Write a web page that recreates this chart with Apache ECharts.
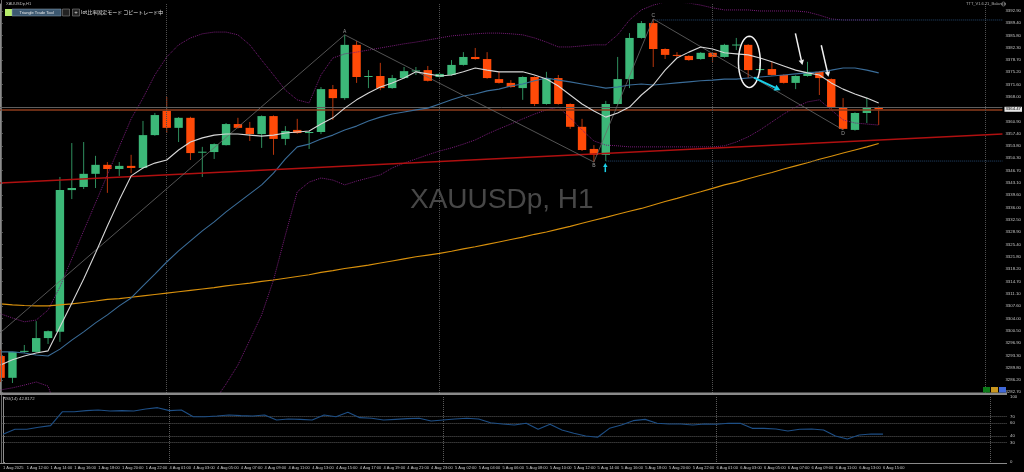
<!DOCTYPE html>
<html><head><meta charset="utf-8">
<script src="https://cdn.jsdelivr.net/npm/echarts@6/dist/echarts.min.js"></script>
<style>html,body{margin:0;padding:0;background:#000;}#c{width:1024px;height:472px;}</style>
</head><body><div id="c"></div>
<script>
// ---------- data (XAUUSDp H1, 1 Aug 10:00 -> 6 Aug 15:00) ----------
const opens = [3293.1,3286.8,3294.3,3294.3,3298.3,3300.1,3341.1,3342.0,3345.8,3348.4,
3347.2,3348.1,3347.5,3357.0,3364.0,3359.1,3362.0,3352.1,3352.1,3354.1,
3360.2,3359.1,3357.3,3362.5,3355.9,3358.5,3357.6,3357.9,3370.3,3367.7,
3383.1,3373.8,3374.1,3370.6,3373.5,3375.5,3375.8,3373.8,3374.4,3377.3,
3379.6,3379.0,3373.2,3372.1,3370.6,3373.8,3366.0,3373.5,3366.0,3359.4,
3353.0,3351.3,3366.0,3373.2,3385.1,3389.4,3381.9,3380.2,3379.9,3379.0,
3380.8,3379.6,3383.1,3383.1,3376.0,3376.1,3374.4,3372.1,3374.1,3375.3,
3373.2,3365.1,3358.5,3363.4,3365.1];
const closes = [3286.8,3294.3,3294.6,3298.3,3300.3,3341.1,3341.7,3345.8,3348.4,3347.2,
3348.1,3347.5,3357.0,3362.8,3359.1,3362.0,3351.8,3352.2,3354.4,3360.2,
3359.1,3357.3,3362.5,3355.9,3358.2,3357.6,3357.9,3370.3,3367.7,3383.1,
3373.8,3374.1,3370.6,3373.5,3375.5,3375.7,3372.7,3374.7,3377.3,3379.6,
3379.0,3373.5,3372.1,3370.9,3373.8,3366.0,3373.5,3366.0,3359.4,3352.7,
3351.3,3366.0,3373.2,3385.1,3389.4,3381.9,3380.2,3380.0,3378.7,3380.8,
3379.6,3383.1,3383.2,3375.8,3376.1,3374.4,3372.1,3374.1,3375.3,3373.5,
3365.1,3358.8,3363.4,3365.1,3364.47];
const highs = [3294.9,3294.3,3296.3,3303.2,3300.5,3344.9,3354.7,3355.0,3351.0,3349.2,
3349.2,3351.3,3361.1,3363.4,3368.0,3362.2,3362.3,3353.6,3354.6,3360.5,
3362.0,3360.8,3362.7,3362.7,3359.6,3361.7,3358.3,3370.9,3371.5,3386.0,
3384.2,3375.8,3377.9,3374.4,3376.7,3376.7,3377.0,3375.0,3378.7,3381.0,
3382.2,3381.0,3375.3,3372.9,3374.0,3374.0,3375.3,3374.4,3366.2,3361.7,
3354.1,3366.9,3379.6,3386.5,3390.0,3390.6,3382.1,3381.0,3380.1,3381.0,
3381.0,3383.4,3385.1,3383.3,3377.9,3378.2,3374.6,3374.3,3378.2,3375.5,
3373.4,3367.7,3363.6,3367.7,3365.3];
const lows = [3285.6,3285.3,3294.0,3294.1,3296.6,3297.2,3338.5,3341.4,3341.7,3340.3,
3345.2,3346.0,3347.3,3356.8,3357.6,3355.0,3349.8,3344.9,3350.1,3354.0,
3358.9,3355.3,3353.3,3351.3,3354.1,3357.4,3353.0,3357.3,3361.4,3367.2,
3372.1,3370.6,3370.0,3370.4,3373.3,3374.4,3372.5,3373.6,3374.2,3377.1,
3378.8,3373.3,3371.9,3370.7,3367.2,3365.4,3365.8,3365.8,3358.8,3352.4,
3349.2,3349.5,3365.8,3370.6,3384.9,3376.7,3379.0,3379.3,3378.5,3378.8,
3378.2,3379.4,3381.6,3373.5,3375.0,3374.2,3371.9,3370.3,3373.9,3368.6,
3364.6,3358.5,3358.3,3360.5,3359.9];
const maFast = [3290.5,3292.0,3293.1,3294.0,3294.6,3301.5,3308.4,3315.4,3322.9,3330.7,
3338.2,3345.2,3347.5,3348.9,3349.8,3352.7,3355.0,3356.2,3357.0,3357.3,
3357.3,3357.0,3356.7,3357.0,3357.6,3357.9,3358.2,3360.2,3362.0,3364.8,
3367.2,3369.2,3370.9,3372.1,3373.5,3375.3,3374.7,3374.1,3374.4,3375.3,
3376.4,3375.8,3375.3,3375.3,3375.3,3374.4,3373.2,3371.2,3368.6,3366.0,
3364.0,3362.2,3363.4,3365.1,3368.6,3371.5,3375.8,3379.3,3381.0,3382.5,
3381.9,3380.8,3380.5,3380.2,3379.3,3378.2,3377.0,3375.8,3375.0,3374.4,
3372.1,3370.3,3368.9,3367.7,3366.3];
const maMid = [3294.3,3294.3,3294.0,3293.4,3293.1,3295.1,3297.7,3300.1,3302.7,3305.0,
3307.6,3309.9,3313.4,3316.8,3320.3,3323.5,3326.4,3329.3,3331.9,3334.8,
3337.4,3340.0,3342.6,3346.0,3350.1,3353.6,3354.4,3355.9,3357.0,3358.5,
3359.6,3361.1,3362.2,3363.1,3363.7,3364.3,3364.8,3366.0,3367.2,3368.3,
3368.9,3369.8,3370.3,3371.2,3371.8,3372.7,3373.5,3372.9,3372.4,3371.8,
3371.2,3370.6,3370.9,3371.5,3371.8,3371.5,3371.8,3372.1,3372.4,3372.7,
3372.9,3373.2,3373.2,3373.5,3373.8,3374.1,3374.4,3374.7,3375.0,3375.3,
3375.8,3376.4,3376.4,3375.8,3375.0];
const maSlow = [3308.2,3307.9,3307.7,3307.6,3307.6,3307.9,3308.2,3308.6,3309.0,3309.5,
3309.7,3310.1,3310.5,3310.9,3311.3,3311.7,3312.1,3312.5,3312.9,3313.4,
3313.8,3314.2,3314.7,3315.1,3315.6,3316.1,3316.6,3317.3,3317.8,3318.4,
3318.9,3319.4,3320.0,3320.6,3321.2,3321.8,3322.3,3322.8,3323.4,3324.1,
3324.7,3325.4,3326.1,3326.8,3327.5,3328.3,3329.0,3329.8,3330.6,3331.5,
3332.4,3333.2,3334.1,3335.0,3335.8,3336.8,3337.8,3338.7,3339.7,3340.6,
3341.6,3342.6,3343.4,3344.4,3345.3,3346.2,3347.2,3348.1,3349.0,3350.0,
3350.9,3351.8,3352.7,3353.6,3354.6];
const bbUpper = [3305.3,3304.1,3303.0,3303.5,3306.4,3313.1,3321.2,3329.3,3337.4,3345.5,
3353.6,3361.7,3367.7,3374.4,3379.6,3383.1,3385.1,3386.3,3386.8,3386.8,
3386.0,3383.1,3378.7,3374.4,3370.0,3367.2,3366.3,3374.4,3379.3,3380.5,
3381.0,3381.6,3382.2,3382.8,3383.4,3383.9,3384.5,3385.1,3385.7,3386.0,
3386.3,3386.5,3386.5,3386.3,3386.0,3385.1,3383.9,3382.5,3382.5,3382.8,
3383.1,3383.1,3386.0,3390.3,3393.2,3394.6,3395.5,3395.5,3395.2,3394.6,
3393.8,3393.2,3393.2,3393.2,3392.9,3392.9,3392.9,3392.9,3392.6,3391.7,
3390.6,3390.3,3390.3,3390.3,3390.3];
const bbLower = [3283.3,3283.9,3284.7,3285.6,3284.4,3275.0,3268.0,3262.0,3258.0,3256.0,
3255.0,3256.0,3258.7,3262.0,3266.0,3268.0,3269.0,3276.0,3280.0,3285.0,
3290.5,3297.7,3305.0,3315.1,3328.1,3340.6,3343.4,3344.6,3344.0,3342.6,
3343.7,3344.6,3345.5,3347.5,3348.9,3350.1,3351.3,3352.4,3353.3,3354.4,
3355.6,3357.3,3358.8,3360.2,3361.7,3363.1,3364.3,3365.1,3362.0,3358.5,
3355.3,3354.1,3353.9,3353.6,3353.6,3353.6,3353.6,3353.6,3353.6,3353.6,
3353.6,3353.9,3355.0,3356.5,3358.5,3360.8,3363.1,3365.1,3366.6,3367.2,
3364.3,3361.4,3360.5,3360.2,3359.9];
const rsi = [42.6,50.3,50.3,53.4,55.9,77.4,77.4,79.0,80.0,78.5,
79.0,78.5,81.5,83.6,79.0,80.0,69.7,69.7,70.8,72.3,
71.3,70.8,72.3,64.6,66.2,65.6,64.6,72.3,69.7,76.4,
68.2,67.2,64.6,65.6,66.7,67.2,63.1,64.6,66.2,67.2,
66.2,60.5,58.5,56.9,59.5,50.3,58.0,49.2,44.1,40.0,
38.0,51.8,56.9,63.6,65.6,59.5,58.5,58.5,56.9,58.5,
58.0,59.5,59.5,51.8,51.8,50.8,47.7,50.3,50.8,49.2,
40.0,35.4,41.5,43.1,42.8172];
const bidPrice = 3364.47;
const askPrice = 3364.95;
const rsiLast = 42.8172;
const priceTicks = [3282.7,3286.2,3289.8,3293.3,3296.9,3300.5,3304.0,3307.6,3311.1,3314.7,
3318.2,3321.8,3325.4,3328.9,3332.5,3336.0,3339.6,3343.1,3346.7,3350.3,3353.8,3357.4,
3360.9,3368.0,3371.6,3375.2,3378.7,3382.3,3385.8,3389.4,3392.9];
const rsiTicks = [0,30,40,60,70,100];
const rsiLevels = [70,60,40,30];
const sessions = [['1 Aug',10,23],['4 Aug',1,23],['5 Aug',1,23],['6 Aug',1,15]];
const daySeparators = [14,37,60,83];
// trend line / pattern points (bar index, price)
const trendRed = [[-0.05,3343.15],[84.43,3357.3]];
const zigzag = [[-0.05,3299.8],[29,3386.0],[50,3349.2],[55,3390.6],[71,3358.5]];
const zigzagNames = ['', 'A','B','C','D'];
const levelC = [[55,3390.3],[84.43,3390.3]];
const levelB = [[51,3349.5],[84.43,3349.5]];
const circleMark = {center:[63.1,3378.2], radius:[0.92,7.4]};
const cyanArrows = [[[63.48,3373.6],[65.72,3370.0]],[[50.96,3346.3],[50.96,3348.9]]];
const whiteArrows = [[[66.98,3386.4],[67.57,3377.3]],[[69.16,3383.0],[69.77,3373.9]]];

const timeLabels = [];
sessions.forEach(([d,a,b]) => { for (let h=a; h<=b; h++) timeLabels.push(d+' '+String(h).padStart(2,'0')+':00'); });
timeLabels[0] = '1 Aug 2025';
const labelIdx = timeLabels.map((_,i)=>i).filter(i=>i%2===0);

const X_MIN = -0.05, X_MAX = 84.43;
const FONT = 'Liberation Sans, DejaVu Sans, sans-serif';

const candleData = opens.map((o,i)=>[i,o,closes[i],lows[i],highs[i]]);
const pair = a => a.map((v,i)=>[i,v]);

function arrowEls(p1,p2,color,w,head){
  const dx=p2[0]-p1[0], dy=p2[1]-p1[1], L=Math.hypot(dx,dy)||1, ux=dx/L, uy=dy/L;
  const hw=head*0.55, bx=p2[0]-ux*head, by=p2[1]-uy*head;
  return [
    {type:'line',shape:{x1:p1[0],y1:p1[1],x2:bx,y2:by},style:{stroke:color,lineWidth:w}},
    {type:'polygon',shape:{points:[[p2[0],p2[1]],[bx-uy*hw,by+ux*hw],[bx+uy*hw,by-ux*hw]]},style:{fill:color}}
  ];
}

const chart = echarts.init(document.getElementById('c'), null, {renderer:'canvas'});
const option = {
  backgroundColor:'#000',
  animation:false,
  grid:[{left:0,right:17,top:4,height:389},{left:0,right:17,top:397,height:65}],
  xAxis:[
    {gridIndex:0,type:'value',min:X_MIN,max:X_MAX,axisLine:{show:false},axisTick:{show:false},axisLabel:{show:false},splitLine:{show:false}},
    {gridIndex:1,type:'value',min:X_MIN,max:X_MAX,axisLine:{show:false},axisTick:{show:false},splitLine:{show:false},
     axisLabel:{customValues:labelIdx,formatter:v=>timeLabels[Math.round(v)]||'',fontSize:4,color:'#c8c8c8',align:'left',margin:4,fontFamily:FONT}}
  ],
  yAxis:[
    {gridIndex:0,type:'value',position:'right',min:3282.41,max:3394.92,splitLine:{show:false},
     axisLine:{show:true,lineStyle:{color:'#8c8c8c'}},
     axisTick:{show:true,customValues:priceTicks,length:2,lineStyle:{color:'#8c8c8c'}},
     axisLabel:{customValues:priceTicks,formatter:v=>v.toFixed(2),fontSize:4.3,color:'#c4c4c4',margin:3,fontFamily:FONT}},
    {gridIndex:1,type:'value',position:'right',min:0,max:100,splitLine:{show:false},
     axisLine:{show:true,lineStyle:{color:'#8c8c8c'}},
     axisTick:{show:true,customValues:rsiTicks,length:2,lineStyle:{color:'#8c8c8c'}},
     axisLabel:{customValues:rsiTicks,fontSize:4.3,color:'#c4c4c4',margin:3,fontFamily:FONT}}
  ],
  graphic:[
    {type:'text',left:410,top:186,z:0,style:{text:'XAUUSDp, H1',fill:'#474747',font:'28px '+FONT}},
    {type:'line',shape:{x1:1.5,y1:0,x2:1.5,y2:464},style:{stroke:'#6a6a6a',lineWidth:1},z:50},
    {type:'rect',shape:{x:0,y:392.5,width:1007,height:2.5},style:{fill:'#8a8a8a'},z:50},
    {type:'line',shape:{x1:0,y1:463.5,x2:1007,y2:463.5},style:{stroke:'#8a8a8a',lineWidth:1},z:50},
    {type:'text',left:6,top:2,z:60,style:{text:'XAUUSDp,H1',fill:'#bdbdbd',font:'4px '+FONT}},
    {type:'rect',shape:{x:5,y:9,width:7,height:7},style:{fill:'#b6ec6a'},z:60},
    {type:'rect',shape:{x:12,y:9,width:49,height:7},style:{fill:'#3c5870',stroke:'#8fa4b8',lineWidth:0.5},z:60},
    {type:'text',x:36.5,y:12.5,z:61,style:{text:'Triangle Trade Tool',fill:'#e8e8e8',font:'4px '+FONT,align:'center',verticalAlign:'middle'}},
    {type:'rect',shape:{x:62.5,y:9,width:7,height:7},style:{fill:'#222',stroke:'#9a9a9a',lineWidth:0.5},z:60},
    {type:'rect',shape:{x:72.5,y:9,width:7,height:7},style:{fill:'#222',stroke:'#9a9a9a',lineWidth:0.5},z:60},
    {type:'text',x:76,y:12.5,z:61,style:{text:'+',fill:'#ddd',font:'6px '+FONT,align:'center',verticalAlign:'middle'}},
    {type:'text',x:81,y:12.5,z:60,style:{text:'lot比率固定モード コピートレード中',fill:'#e0e0e0',font:'5px Noto Sans CJK JP, sans-serif',verticalAlign:'middle'}},
    {type:'text',x:966,y:4,z:60,style:{text:'TTT_V1.6.21_Balance',fill:'#b0b0b0',font:'4px '+FONT,verticalAlign:'middle'}},
    {type:'circle',shape:{cx:1003.5,cy:4,r:2},style:{fill:'none',stroke:'#999',lineWidth:0.6},z:60},
    {type:'rect',shape:{x:983,y:387,width:7,height:5.5},style:{fill:'#0b7a18'},z:60},
    {type:'rect',shape:{x:991,y:387,width:7,height:5.5},style:{fill:'#c8961e'},z:60},
    {type:'rect',shape:{x:999,y:387,width:7,height:5.5},style:{fill:'#4068d8'},z:60},
    {type:'text',x:3,y:398.5,z:60,style:{text:'RSI(14) '+rsiLast.toFixed(4),fill:'#c0c0c0',font:'4.3px '+FONT,verticalAlign:'middle'}}
  ],
  series:[
    {type:'custom',xAxisIndex:0,yAxisIndex:0,z:3,data:candleData,encode:{x:0,y:[1,2,3,4]},
     renderItem:(params,api)=>{
       const x=api.value(0),o=api.value(1),c=api.value(2),l=api.value(3),h=api.value(4);
       const pO=api.coord([x,o]),pC=api.coord([x,c]),pL=api.coord([x,l]),pH=api.coord([x,h]);
       const up=c>=o, w=8.4;
       const top=Math.min(pO[1],pC[1]), ht=Math.max(1,Math.abs(pO[1]-pC[1]));
       return {type:'group',children:[
         {type:'line',shape:{x1:pH[0],y1:pH[1],x2:pL[0],y2:pL[1]},style:{stroke:up?'#2f8f5e':'#b8360c',lineWidth:1}},
         {type:'rect',shape:{x:pO[0]-w/2,y:top,width:w,height:ht},style:{fill:up?'#3cb878':'#ff4a08'}}
       ]};
     },
     markLine:{silent:true,symbol:['none','none'],lineStyle:{type:'solid'},
       data:[
         {yAxis:askPrice,lineStyle:{color:'#5e5e5e',width:1,type:'solid'},label:{show:false}},
         {yAxis:bidPrice,lineStyle:{color:'#8e3c1c',width:1.6,type:'solid'},
          label:{show:true,position:'end',formatter:bidPrice.toFixed(2),fontSize:4.3,color:'#000',backgroundColor:'#e6e6e6',padding:[1,1,0,1],distance:2,fontFamily:FONT}}
       ]}
    },
    {type:'line',xAxisIndex:0,yAxisIndex:0,z:4,data:pair(bbUpper),symbol:'none',lineStyle:{color:'#7a1c7a',width:1,type:'dotted'},
     markLine:{silent:true,symbol:['none','none'],label:{show:false},lineStyle:{color:'#505050',width:1,type:'dotted'},data:daySeparators.map(v=>({xAxis:v}))}},
    {type:'line',xAxisIndex:0,yAxisIndex:0,z:4,data:pair(bbLower),symbol:'none',lineStyle:{color:'#7a1c7a',width:1,type:'dotted'}},
    {type:'line',xAxisIndex:0,yAxisIndex:0,z:5,data:pair(maSlow),symbol:'none',lineStyle:{color:'#d8900c',width:1.1}},
    {type:'line',xAxisIndex:0,yAxisIndex:0,z:5,data:pair(maMid),symbol:'none',lineStyle:{color:'#3a6c98',width:1.1}},
    {type:'line',xAxisIndex:0,yAxisIndex:0,z:6,data:pair(maFast),symbol:'none',lineStyle:{color:'#d6d6d6',width:1.1}},
    {type:'line',xAxisIndex:0,yAxisIndex:0,z:5,data:trendRed,symbol:'none',lineStyle:{color:'#b01010',width:1.5}},
    {type:'line',xAxisIndex:0,yAxisIndex:0,z:5,data:levelC,symbol:'none',lineStyle:{color:'#24466e',width:1,type:'dotted'}},
    {type:'line',xAxisIndex:0,yAxisIndex:0,z:5,data:levelB,symbol:'none',lineStyle:{color:'#24466e',width:1,type:'dotted'}},
    {type:'line',xAxisIndex:0,yAxisIndex:0,z:5,data:zigzag,symbol:'none',lineStyle:{color:'#6a6a6a',width:0.8}},
    {type:'custom',xAxisIndex:0,yAxisIndex:0,z:8,data:[[0,3350]],clip:false,
     renderItem:(params,api)=>{
       const els=[];
       zigzag.forEach((p,i)=>{
         if(!zigzagNames[i]) return;
         const q=api.coord(p); const above = i===1||i===3;
         els.push({type:'text',x:q[0],y:q[1]+(above?-3:4),style:{text:zigzagNames[i],fill:'#9a9a9a',font:'5px '+FONT,align:'center',verticalAlign:'middle'}});
       });
       const c0=api.coord(circleMark.center);
       const rx=api.coord([circleMark.center[0]+circleMark.radius[0],circleMark.center[1]])[0]-c0[0];
       const ry=c0[1]-api.coord([circleMark.center[0],circleMark.center[1]+circleMark.radius[1]])[1];
       const pts=[]; for(let k=0;k<48;k++){const t=k/48*Math.PI*2; pts.push([c0[0]+rx*Math.cos(t),c0[1]+ry*Math.sin(t)]);}
       els.push({type:'polygon',shape:{points:pts},style:{fill:'none',stroke:'#f2f2f2',lineWidth:1.5}});
       cyanArrows.forEach((a,i)=>{ els.push(...arrowEls(api.coord(a[0]),api.coord(a[1]),'#1ad0e8',i===0?2:1.5,i===0?6:4)); });
       whiteArrows.forEach(a=>{ els.push(...arrowEls(api.coord(a[0]),api.coord(a[1]),'#f0f0f0',1.5,5)); });
       return {type:'group',children:els};
     }},
    {type:'line',xAxisIndex:1,yAxisIndex:1,z:5,data:pair(rsi),symbol:'none',lineStyle:{color:'#1e4f86',width:1.1},
     markLine:{silent:true,symbol:['none','none'],label:{show:false},lineStyle:{color:'#5a5a5a',width:1,type:'dotted'},
       data:[...rsiLevels.map(v=>({yAxis:v})),...daySeparators.map(v=>({xAxis:v}))]}}
  ]
};
chart.setOption(option);
</script></body></html>
